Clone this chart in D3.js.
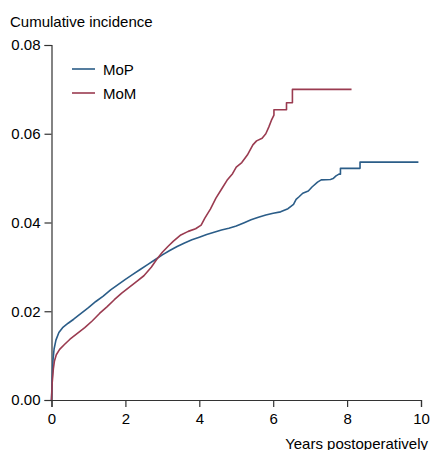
<!DOCTYPE html>
<html>
<head>
<meta charset="utf-8">
<script src="https://cdn.jsdelivr.net/npm/d3@7"></script>
<style>
  body { margin: 0; background: #fff; }
  svg { display: block; font-family: 'Liberation Sans', Arial, sans-serif; }
</style>
</head>
<body>
<div id="svg-container"></div>
<script>
// Cumulative incidence curves (late plateaus kept as explicit steps)
const mopYears = [0, 0.02, 0.04, 0.07, 0.12, 0.2, 0.3, 0.45, 0.6, 0.8, 1.0, 1.2, 1.4, 1.6, 1.8, 2.0, 2.2, 2.4, 2.6, 2.8, 3.0, 3.2, 3.4, 3.6, 3.8, 4.0, 4.2, 4.4, 4.6, 4.8, 5.0, 5.2, 5.4, 5.6, 5.8, 6.0, 6.2, 6.4, 6.55, 6.62, 6.7, 6.8, 6.95, 7.05, 7.2, 7.3, 7.55, 7.62, 7.7, 7.78, 7.82, 7.82, 8.35, 8.35, 9.93]
const mopValues = [0, 0.005, 0.009, 0.0115, 0.0135, 0.0152, 0.0163, 0.0173, 0.0182, 0.0195, 0.0208, 0.0222, 0.0234, 0.0248, 0.026, 0.0272, 0.0283, 0.0294, 0.0305, 0.0316, 0.0327, 0.0337, 0.0346, 0.0354, 0.0361, 0.0367, 0.0373, 0.0378, 0.0383, 0.0387, 0.0392, 0.0399, 0.0406, 0.0412, 0.0417, 0.0421, 0.0424, 0.0431, 0.0441, 0.0452, 0.0458, 0.0466, 0.0471, 0.048, 0.0491, 0.0496, 0.0497, 0.0499, 0.0505, 0.0509, 0.0509, 0.0522, 0.0522, 0.0536, 0.0536]

const momYears = [0, 0.02, 0.05, 0.08, 0.13, 0.22, 0.35, 0.5, 0.7, 0.9, 1.1, 1.3, 1.5, 1.7, 1.9, 2.1, 2.3, 2.5, 2.7, 2.85, 3.0, 3.15, 3.3, 3.5, 3.7, 3.9, 4.05, 4.15, 4.3, 4.45, 4.6, 4.75, 4.9, 5.0, 5.15, 5.3, 5.45, 5.55, 5.7, 5.8, 5.88, 5.95, 6.02, 6.02, 6.36, 6.36, 6.52, 6.52, 8.12]
const momValues = [0, 0.004, 0.007, 0.0088, 0.0102, 0.0114, 0.0125, 0.0137, 0.015, 0.0163, 0.0178, 0.0195, 0.021, 0.0226, 0.0241, 0.0254, 0.0267, 0.028, 0.0299, 0.0317, 0.0333, 0.0346, 0.0358, 0.0372, 0.038, 0.0386, 0.0394, 0.041, 0.043, 0.0455, 0.0475, 0.0495, 0.051, 0.0525, 0.0535, 0.0552, 0.0575, 0.0584, 0.059, 0.06, 0.0615, 0.063, 0.0642, 0.0654, 0.0654, 0.067, 0.067, 0.07, 0.07]

const seriesNames = ['MoP', 'MoM']
const seriesColors = ['#2b5d88', '#9a3b50']
const xTicks = [0, 2, 4, 6, 8, 10]
const yTicks = [0, 0.02, 0.04, 0.06, 0.08]

;(function () {
  const svgWidth = 431
  const svgHeight = 450

  const svg = d3
    .select('#svg-container')
    .append('svg')
    .attr('width', svgWidth)
    .attr('height', svgHeight)

  const x = d3.scaleLinear().domain([0, 10]).range([51.5, 421])
  const y = d3.scaleLinear().domain([0, 0.08]).range([400, 45])

  const series = [
    { name: seriesNames[0], color: seriesColors[0], points: mopYears.map((t, i) => [t, mopValues[i]]) },
    { name: seriesNames[1], color: seriesColors[1], points: momYears.map((t, i) => [t, momValues[i]]) },
  ]

  const axisColor = '#333'

  const xAxis = svg
    .append('g')
    .attr('transform', `translate(0, 400)`)
    .call(d3.axisBottom(x).tickValues(xTicks).tickSize(7).tickFormat(d3.format('d')))
  const yAxis = svg
    .append('g')
    .attr('transform', `translate(51.5, 0)`)
    .call(d3.axisLeft(y).tickValues(yTicks).tickSize(7).tickFormat(d3.format('.2f')))

  ;[xAxis, yAxis].forEach(g => {
    g.attr('font-family', null).attr('font-size', null)
    g.selectAll('path, line').attr('stroke', axisColor).attr('stroke-width', 1.2)
    g.selectAll('text').attr('fill', '#000').style('font-size', '15px')
  })
  xAxis.selectAll('text').attr('dy', '0.95em')
  yAxis.selectAll('text').attr('x', -11)

  const line = d3
    .line()
    .x(d => x(d[0]))
    .y(d => y(d[1]))

  svg
    .append('g')
    .selectAll('path')
    .data(series)
    .join('path')
    .attr('d', d => line(d.points))
    .attr('fill', 'none')
    .attr('stroke', d => d.color)
    .attr('stroke-width', 1.6)
    .attr('stroke-linejoin', 'round')

  // legend
  const legend = svg
    .append('g')
    .selectAll('g')
    .data(series)
    .join('g')
    .attr('transform', (d, i) => `translate(72, ${69 + i * 24})`)
  legend
    .append('line')
    .attr('x1', 0)
    .attr('x2', 23)
    .attr('stroke', d => d.color)
    .attr('stroke-width', 1.6)
  legend
    .append('text')
    .attr('x', 31)
    .attr('y', 6)
    .style('font-size', '15px')
    .text(d => d.name)

  svg
    .append('text')
    .attr('x', 10)
    .attr('y', 27)
    .style('font-size', '15px')
    .text('Cumulative incidence')

  svg
    .append('text')
    .attr('x', 428)
    .attr('y', 449)
    .attr('text-anchor', 'end')
    .style('font-size', '15px')
    .text('Years postoperatively')
})()
</script>
</body>
</html>
